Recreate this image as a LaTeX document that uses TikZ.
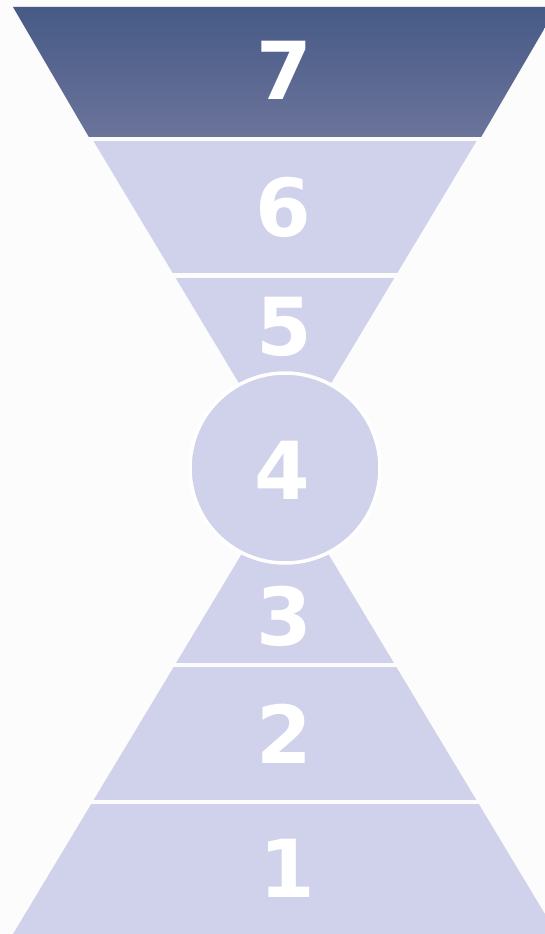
\documentclass[tikz,border=0pt]{standalone}
\usepackage{fontspec}
\setmainfont{DejaVu Sans}
\definecolor{bgc}{HTML}{FCFCFD}
\definecolor{band}{HTML}{D0D1EA}
\definecolor{topdark}{HTML}{465A86}
\definecolor{botdark}{HTML}{6C749B}
\begin{document}
\begin{tikzpicture}[x=1pt,y=-1pt,
  numlabel/.style={text=white,font=\fontsize{80}{80}\selectfont\bfseries,inner sep=0pt,anchor=center},
  gapline/.style={draw=bgc,line width=4.5pt},
  bandfill/.style={fill=band,draw=none}]
  \useasboundingbox (0,0) rectangle (545,934);
  \fill[bgc] (0,0) rectangle (545,934);
  \clip (0,0) rectangle (545,934);
  % upper funnel
  \coordinate (uapex) at (285,460);
  \coordinate (utl) at (13,7);
  \coordinate (utr) at (557,7);
  \path[bandfill] (utl) -- (utr) -- (uapex) -- cycle;
  % band 7 shading
  \coordinate (b7bl) at (90,139);
  \coordinate (b7br) at (480,139);
  \shade[top color=topdark,bottom color=botdark] (utl) -- (utr) -- (b7br) -- (b7bl) -- cycle;
  % lower funnel
  \coordinate (lapex) at (285,482);
  \coordinate (lbl) at (13,934);
  \coordinate (lbr) at (557,934);
  \path[bandfill] (lbl) -- (lbr) -- (lapex) -- cycle;
  % gaps
  \coordinate (g1a) at (60,139);   \coordinate (g1b) at (510,139);
  \coordinate (g2a) at (140,275.5); \coordinate (g2b) at (430,275.5);
  \coordinate (g3a) at (140,665);   \coordinate (g3b) at (430,665);
  \coordinate (g4a) at (60,802);   \coordinate (g4b) at (510,802);
  \draw[gapline] (g1a) -- (g1b);
  \draw[gapline] (g2a) -- (g2b);
  \draw[gapline] (g3a) -- (g3b);
  \draw[gapline] (g4a) -- (g4b);
  % circle
  \node[circle,fill=band,draw=white,line width=3.5pt,minimum size=190pt,inner sep=0pt] (c4) at (285,468) {};
  % labels
  \node[numlabel] (n7) at (284,70) {7};
  \node[numlabel] (n6) at (283,207) {6};
  \node[numlabel] (n5) at (284,327) {5};
  \node[numlabel] (n4) at (282,470) {4};
  \node[numlabel] (n3) at (284,616) {3};
  \node[numlabel] (n2) at (284,734) {2};
  \node[numlabel] (n1) at (287,868) {1};
\end{tikzpicture}
\end{document}
